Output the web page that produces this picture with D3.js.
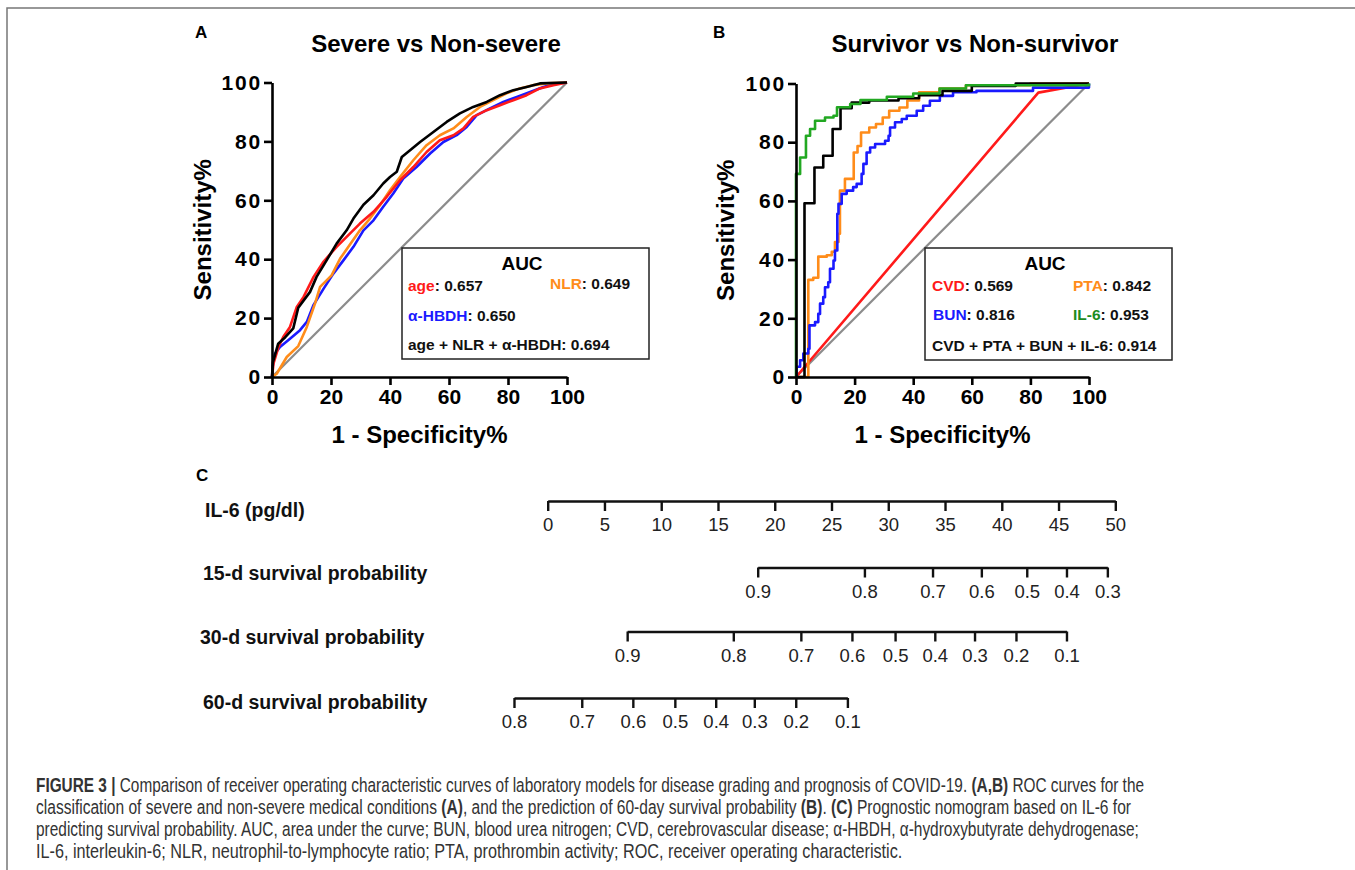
<!DOCTYPE html>
<html>
<head>
<meta charset="utf-8">
<script src="https://cdn.jsdelivr.net/npm/d3@7"></script>
<style>
  body { margin: 0; background: #fff; }
  svg { display: block; font-family: "Liberation Sans", Arial, sans-serif; }
</style>
</head>
<body>
<div id="chart"></div>
<script>
// ---- data ----
const rocTicks = [0, 20, 40, 60, 80, 100];

// panel A : severe vs non-severe
const ageA = [[0,0],[0.5,4.5],[2.2,10.2],[3.8,13.6],[6.1,17],[8.4,23.8],[10.7,27.2],[14.1,34],[17.5,39.2],[21.9,44.2],[25.3,47.6],[29.8,52.1],[34.4,56.1],[38.9,61.2],[43.4,66.8],[47.9,71.3],[52.4,76.4],[56.9,80.4],[61.5,82.1],[64.9,84.4],[68.2,88.3],[72.8,90.6],[77.3,92.3],[81.8,94],[86.3,95.7],[90.8,98],[95.4,99.1],[100,100]];
const nlrA = [[0,0],[1.6,1.1],[5,6.8],[8.9,10.5],[11.8,17],[14.6,25],[16.3,30.6],[20.2,34.5],[23.1,40.2],[25.9,44.2],[29.8,49.8],[33.2,53.8],[36.6,58.3],[40,63.4],[43.4,67.9],[47.9,73.6],[52.4,78.7],[56.9,82.1],[61.5,84.4],[66,88.3],[70.5,91.7],[75,94],[79.5,96.3],[84,98],[88.6,99.1],[93.1,99.7],[100,100]];
const hbdhA = [[0,0],[0.2,3.4],[1,7.9],[2.7,10.2],[6.1,13],[9.5,15.9],[11.8,18.7],[14.1,24.5],[17.5,30],[20.8,35.1],[24.2,39.6],[27.6,44.2],[31,49.8],[34.4,53.2],[37.7,57.8],[41.1,62.3],[44.5,67.4],[49,71.3],[53.6,75.9],[58.1,79.8],[62.6,82.1],[66,84.9],[69.4,88.9],[73.9,91.2],[78.4,93.4],[83,95.1],[87.5,96.8],[92,98.5],[96.5,99.7],[100,100]];
const comboA = [[0,0],[0.3,5],[2.1,11.3],[4.5,13.5],[7.2,16.5],[8.9,23.5],[12.9,28.9],[15.1,34],[18.5,39.6],[21.9,45.3],[25.3,49.8],[27.6,53.8],[31,58.5],[34.4,61.7],[37.7,65.7],[40,67.9],[42.3,69.7],[44,74.7],[46.8,77],[50.2,79.8],[54.7,83.2],[59.2,86.6],[63.7,89.5],[68.2,91.7],[72.8,93.4],[77.3,95.7],[81.8,97.4],[86.3,98.5],[90.8,99.7],[100,100]];

// panel B : survivor vs non-survivor (step points: x where the curve jumps, y after jump)
const cvdB = [[0,0],[82.7,96.9],[100,100]];
const ptaB = [[0,0],[4.2,33.1],[5.9,33.8],[7.6,41],[10.5,41.5],[12.2,42.7],[13.3,46],[14.5,48.8],[15,63.5],[16.7,67.5],[19.7,76.5],[21,78.7],[22.2,83.3],[25,85],[27.3,86.2],[29.6,88.4],[31.8,90.7],[35.3,91.8],[38,94.2],[42,97],[49,98.3],[58,99.4],[80,100],[100,100]];
const bunB = [[0,0],[0.2,3.5],[1.4,5.7],[2.5,8],[4.2,9.6],[4.6,17.6],[6.5,18.7],[7.6,21.5],[8.2,25],[9.3,27.2],[9.9,30.6],[11,32.3],[11.6,36.9],[12.8,39.7],[13.3,43.1],[14.1,55.6],[14.5,59],[15.6,62.4],[17.3,63.5],[19.5,64.7],[20.7,65.8],[22.4,69.2],[23,72.6],[24.1,76.5],[25.3,78.2],[27,79.4],[30.4,80.5],[31.6,82.2],[32.1,85],[33.8,86.8],[36.1,87.9],[37.8,89],[41.2,90.7],[43.4,92.4],[45.7,94.1],[49.1,95.8],[53.6,97],[61.6,97.5],[80.9,98.6],[100,100]];
const comboB = [[0,0],[2.9,59.2],[6.3,71.4],[9.3,75.4],[12.5,84.5],[15.2,91.6],[19,93.5],[25,94.2],[35,95],[42,96],[50,97.5],[60,99.2],[75,100],[100,100]];
const il6B = [[0,0],[0,69.2],[1.4,74.8],[3.4,82.2],[4.8,84.5],[6.5,87.3],[9.9,88.4],[12.8,89],[14,91.9],[18.5,93],[22,94.4],[31,95.5],[40,96.6],[49,98.3],[58,99.4],[100,100]];
const diag = [[0,0],[100,100]];

const aucA = [["age", "0.657"], ["NLR", "0.649"], ["α-HBDH", "0.650"], ["age + NLR + α-HBDH", "0.694"]];
const aucB = [["CVD", "0.569"], ["PTA", "0.842"], ["BUN", "0.816"], ["IL-6", "0.953"], ["CVD + PTA + BUN + IL-6", "0.914"]];

// panel C : nomogram
const il6Ticks = [0, 5, 10, 15, 20, 25, 30, 35, 40, 45, 50];
const surv15Labels = ["0.9", "0.8", "0.7", "0.6", "0.5", "0.4", "0.3"];
const surv15Pos = [18.5, 27.9, 33.9, 38.2, 42.2, 45.7, 49.3];   // position on IL-6 scale
const surv30Labels = ["0.9", "0.8", "0.7", "0.6", "0.5", "0.4", "0.3", "0.2", "0.1"];
const surv30Pos = [7.0, 16.35, 22.3, 26.8, 30.6, 34.1, 37.6, 41.25, 45.7];
const surv60Labels = ["0.8", "0.7", "0.6", "0.5", "0.4", "0.3", "0.2", "0.1"];
const surv60Pos = [-2.97, 3.0, 7.5, 11.2, 14.8, 18.2, 21.85, 26.4];

const captionLines = [
  [["FIGURE 3 | ", true], ["Comparison of receiver operating characteristic curves of laboratory models for disease grading and prognosis of COVID-19. ", false], ["(A,B)", true], [" ROC curves for the", false]],
  [["classification of severe and non-severe medical conditions ", false], ["(A)", true], [", and the prediction of 60-day survival probability ", false], ["(B)", true], [". ", false], ["(C)", true], [" Prognostic nomogram based on IL-6 for", false]],
  [["predicting survival probability. AUC, area under the curve; BUN, blood urea nitrogen; CVD, cerebrovascular disease; α-HBDH, α-hydroxybutyrate dehydrogenase;", false]],
  [["IL-6, interleukin-6; NLR, neutrophil-to-lymphocyte ratio; PTA, prothrombin activity; ROC, receiver operating characteristic.", false]]
];
const captionWidths = [1109, 1096, 1104, 867];

const RED = "#ff1a1a", ORANGE = "#ff8c1a", BLUE = "#1a1aff", GREEN = "#22a822", GREY = "#8c8c8c";

// ---- svg ----
const W = 1355, H = 870;
const svg = d3.select("#chart").append("svg").attr("width", W).attr("height", H);

// page frame (top + left)
svg.append("path").attr("d", "M7,870 V8 H1355").attr("fill", "none").attr("stroke", "#777").attr("stroke-width", 1.5);

function rocPanel(o) {
  const x = d3.scaleLinear().domain([0, 100]).range([o.x0, o.x1]);
  const y = d3.scaleLinear().domain([0, 100]).range([o.y0, o.y1]);
  const g = svg.append("g");

  g.append("text").attr("x", o.labelX).attr("y", 38).attr("font-size", 17).attr("font-weight", "bold").text(o.label);
  g.append("text").attr("x", o.titleX).attr("y", 52).attr("text-anchor", "middle")
    .attr("font-size", 24).attr("font-weight", "bold").text(o.title);

  const lineLin = d3.line().x(d => x(d[0])).y(d => y(d[1]));
  const lineStep = d3.line().x(d => x(d[0])).y(d => y(d[1])).curve(d3.curveStepAfter);

  g.append("path").datum(diag).attr("d", lineLin).attr("fill", "none").attr("stroke", GREY).attr("stroke-width", 2.2);
  o.series.forEach(s => {
    g.append("path").datum(s.data).attr("d", s.step ? lineStep : lineLin)
      .attr("fill", "none").attr("stroke", s.color).attr("stroke-width", 2.6)
      .attr("stroke-linejoin", "round");
  });

  const ax = g.append("g").attr("transform", `translate(0,${o.y0})`)
    .call(d3.axisBottom(x).tickValues(rocTicks).tickSize(8).tickSizeOuter(0).tickPadding(4));
  const ay = g.append("g").attr("transform", `translate(${o.x0},0)`)
    .call(d3.axisLeft(y).tickValues(rocTicks).tickSize(8).tickSizeOuter(0).tickPadding(2));
  [ax, ay].forEach(a => {
    a.select(".domain").attr("stroke", "#000").attr("stroke-width", 2.6);
    a.selectAll(".tick line").attr("stroke", "#000").attr("stroke-width", 2.6);
    a.selectAll(".tick text").attr("fill", "#000").attr("font-size", 21).attr("font-weight", "bold")
      .style("font-family", "'Liberation Sans', Arial, sans-serif");
  });
  ay.selectAll(".tick text").attr("letter-spacing", 1.8);

  g.append("text").attr("x", (o.x0 + o.x1) / 2).attr("y", 443).attr("text-anchor", "middle")
    .attr("font-size", 24).attr("font-weight", "bold").text("1 - Specificity%");
  g.append("text").attr("transform", `translate(${o.yTitleX},${(o.y0 + o.y1) / 2}) rotate(-90)`)
    .attr("text-anchor", "middle").attr("font-size", 24).attr("font-weight", "bold").text("Sensitivity%");

  // AUC box
  const b = o.box;
  g.append("rect").attr("x", b.x).attr("y", b.y).attr("width", b.w).attr("height", b.h)
    .attr("fill", "#fff").attr("stroke", "#222").attr("stroke-width", 1.5);
  g.append("text").attr("x", b.aucX).attr("y", b.y + 22).attr("text-anchor", "middle")
    .attr("font-size", 19).attr("font-weight", "bold").text("AUC");
  o.entries.forEach(e => {
    const t = g.append("text").attr("x", e.x).attr("y", e.y).attr("font-size", 15.5).attr("font-weight", "bold");
    t.append("tspan").attr("fill", e.color).text(e.name);
    t.append("tspan").attr("fill", "#111").text(": " + e.value);
  });
}

rocPanel({
  label: "A", labelX: 195, title: "Severe vs Non-severe", titleX: 436,
  x0: 272, x1: 567, y0: 377, y1: 82.5, yTitleX: 211,
  series: [
    { data: hbdhA, color: BLUE }, { data: nlrA, color: ORANGE },
    { data: ageA, color: RED }, { data: comboA, color: "#000" }
  ],
  box: { x: 402, y: 248, w: 247, h: 111, aucX: 522 },
  entries: [
    { name: aucA[0][0], value: aucA[0][1], color: RED, x: 408, y: 290.5 },
    { name: aucA[1][0], value: aucA[1][1], color: ORANGE, x: 550, y: 289 },
    { name: aucA[2][0], value: aucA[2][1], color: BLUE, x: 408, y: 321 },
    { name: aucA[3][0], value: aucA[3][1], color: "#111", x: 408, y: 349.5 }
  ]
});

rocPanel({
  label: "B", labelX: 713, title: "Survivor vs Non-survivor", titleX: 975,
  x0: 796, x1: 1089, y0: 377, y1: 83.5, yTitleX: 734,
  series: [
    { data: cvdB, color: RED }, { data: ptaB, color: ORANGE, step: true },
    { data: bunB, color: BLUE, step: true }, { data: comboB, color: "#000", step: true },
    { data: il6B, color: GREEN, step: true }
  ],
  box: { x: 925, y: 248, w: 247, h: 112, aucX: 1045 },
  entries: [
    { name: aucB[0][0], value: aucB[0][1], color: RED, x: 932, y: 290.5 },
    { name: aucB[1][0], value: aucB[1][1], color: ORANGE, x: 1073, y: 291 },
    { name: aucB[2][0], value: aucB[2][1], color: BLUE, x: 933, y: 320 },
    { name: aucB[3][0], value: aucB[3][1], color: "#1e8c1e", x: 1073, y: 320 },
    { name: aucB[4][0], value: aucB[4][1], color: "#111", x: 932, y: 350.5 }
  ]
});

// ---- panel C : nomogram ----
const il6 = d3.scaleLinear().domain([0, 50]).range([547.7, 1115.3]);
const gC = svg.append("g");
gC.append("text").attr("x", 196).attr("y", 481).attr("font-size", 17).attr("font-weight", "bold").text("C");

const rows = [
  { name: "IL-6 (pg/dl)", lx: 205, ly: 517, lineY: 501, pos: il6Ticks, labels: il6Ticks.map(String) },
  { name: "15-d survival probability", lx: 203, ly: 580, lineY: 567.5, pos: surv15Pos, labels: surv15Labels },
  { name: "30-d survival probability", lx: 200, ly: 643.5, lineY: 631.5, pos: surv30Pos, labels: surv30Labels },
  { name: "60-d survival probability", lx: 203, ly: 708.5, lineY: 698, pos: surv60Pos, labels: surv60Labels }
];

rows.forEach(r => {
  gC.append("text").attr("x", r.lx).attr("y", r.ly).attr("font-size", 19.5).attr("font-weight", "bold")
    .attr("fill", "#111").text(r.name);
  const ext = d3.extent(r.pos);
  const s = d3.scaleLinear().domain(ext).range(ext.map(il6));
  const a = gC.append("g").attr("transform", `translate(0,${r.lineY})`)
    .call(d3.axisBottom(s).tickValues(r.pos).tickFormat((d, i) => r.labels[i])
      .tickSize(10).tickSizeOuter(0).tickPadding(7));
  a.select(".domain").attr("stroke", "#111").attr("stroke-width", 2.4);
  a.selectAll(".tick line").attr("stroke", "#111").attr("stroke-width", 2.4);
  a.selectAll(".tick text").attr("fill", "#222").attr("font-size", 18.5)
    .style("font-family", "'Liberation Sans', Arial, sans-serif");
});

// ---- caption: each line squeezed horizontally to the width it has in the figure ----
captionLines.forEach((segs, i) => {
  const t = svg.append("text").attr("x", 0).attr("y", 0)
    .attr("font-size", 19.5).attr("fill", "#333")
    .style("font-family", "'Liberation Sans Narrow', 'Liberation Sans', Arial, sans-serif");
  segs.forEach(sg => {
    t.append("tspan").attr("font-weight", sg[1] ? "bold" : "normal").text(sg[0]);
  });
  const natural = t.node().getComputedTextLength();
  const sx = captionWidths[i] / natural;
  t.attr("transform", `translate(36,${792 + i * 22}) scale(${sx},1)`);
});
</script>
</body>
</html>
